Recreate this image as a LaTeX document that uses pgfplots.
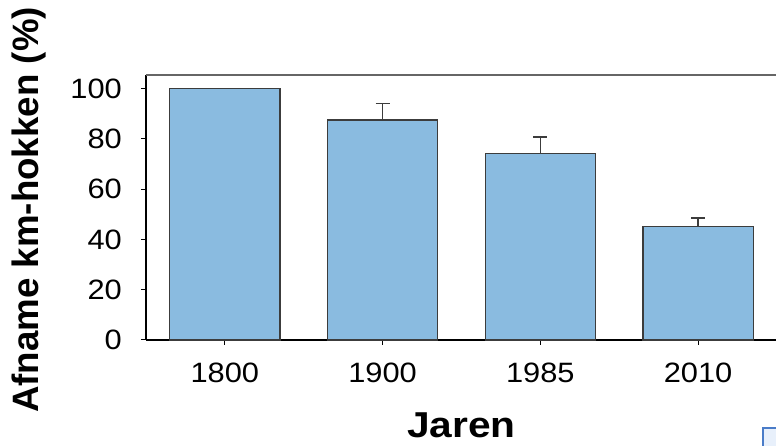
\documentclass[border=0pt]{standalone}
\usepackage{pgfplots}
\pgfplotsset{compat=1.18}
\usepackage{fontspec}
\setmainfont{Liberation Sans}
\newfontfamily\tickfont{Liberation Sans}[FakeStretch=1.1]
\newfontfamily\xlabfont{Liberation Sans}[FakeStretch=1.13]
\definecolor{barblue}{RGB}{138,187,224}
\definecolor{baredge}{RGB}{60,60,60}
\begin{document}
\begin{tikzpicture}
\path[use as bounding box] (-146pt,-106pt) rectangle (630pt,340pt);
\begin{axis}[
  at={(0,0)}, anchor=south west,
  scale only axis,
  width=631pt, height=265pt,
  xmin=-0.5, xmax=3.5,
  ymin=0, ymax=105.4,
  axis x line*=bottom, axis y line*=left,
  axis line style={-, black, line width=1.3pt},
  xtick={0,1,2,3},
  xticklabels={1800,1900,1985,2010},
  ytick={0,20,40,60,80,100},
  tick align=outside,
  major tick length=5pt,
  tick style={black, line width=1pt},
  /pgf/number format/assume math mode=true,
  ticklabel style={font=\tickfont\fontsize{28}{28}\selectfont},
  yticklabel style={anchor=east, inner sep=0pt, xshift=-19pt},
  xticklabel style={anchor=base, inner sep=0pt, yshift=-38pt},
  xlabel={Jaren},
  ylabel={Afname km-hokken (\%)},
  xlabel style={at={(axis description cs:0.5,-0.3698)}, anchor=base, inner sep=0pt,
    font=\xlabfont\bfseries\fontsize{36}{36}\selectfont},
  ylabel style={at={(axis description cs:-0.2124,0.4906)}, rotate=0, anchor=north, inner sep=0pt,
    font=\bfseries\fontsize{36.7}{36.7}\selectfont},
  clip=false,
]
\addplot[ybar, bar width=0.7, fill=barblue, draw=baredge, line width=1.2pt,
  error bars/.cd, y dir=plus, y explicit,
  error bar style={line width=1.3pt, color=baredge},
  error mark options={rotate=90, mark size=7pt, line width=1.3pt, color=baredge}]
coordinates {
 (0,100) +- (0,0)
 (1,87.5) +- (0,6.7)
 (2,74.1) +- (0,6.6)
 (3,45.3) +- (0,3.2)
};
\draw[gray!80!black, line width=1.3pt] (rel axis cs:0,1) -- (rel axis cs:1,1);
\end{axis}
\draw[draw={rgb,255:red,74;green,124;blue,200}, fill={rgb,255:red,232;green,240;blue,251}, line width=1.5pt]
  (617pt,-88pt) rectangle (640pt,-120pt);
\end{tikzpicture}
\end{document}
